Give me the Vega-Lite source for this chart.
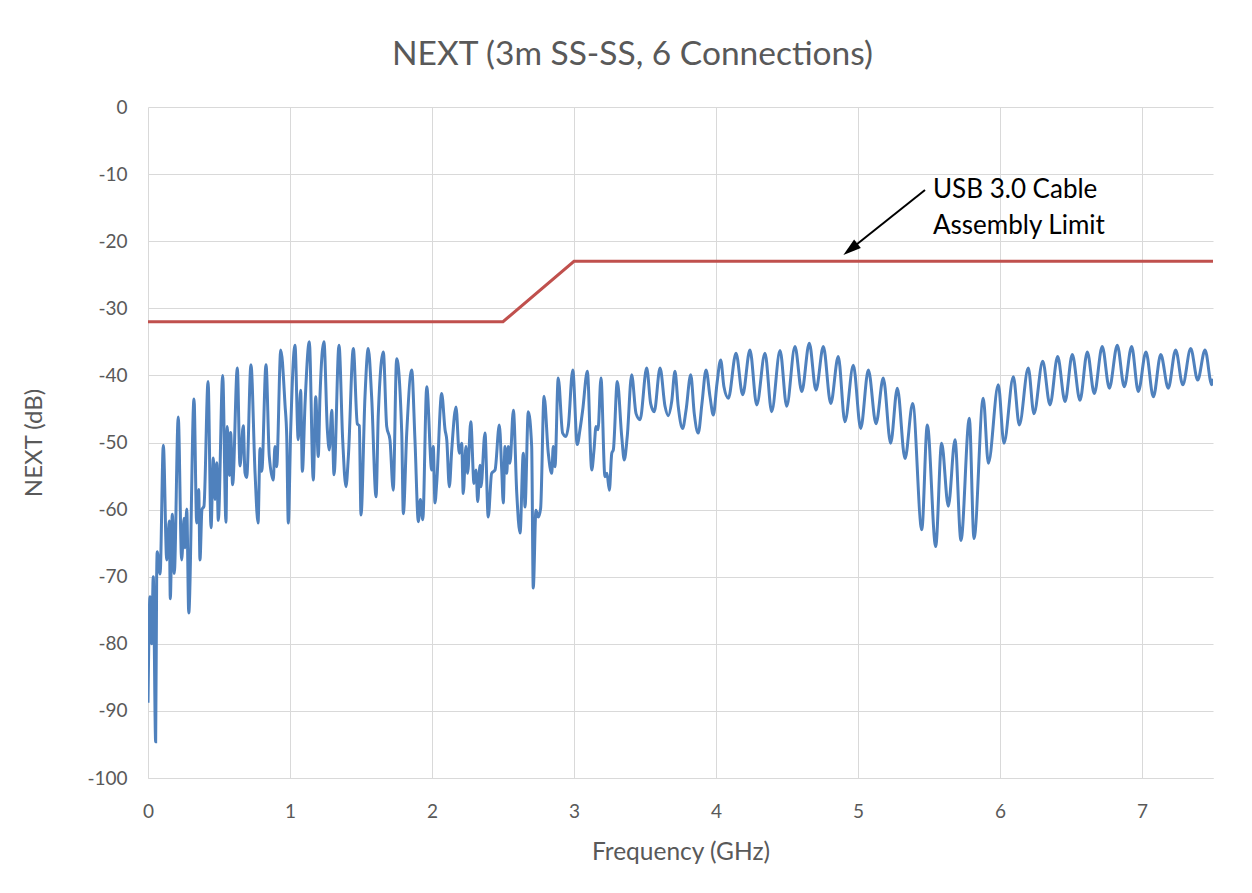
{
  "$schema": "https://vega.github.io/schema/vega-lite/v6.json",
  "width": 1065,
  "height": 671,
  "autosize": {"type": "none"},
  "padding": {"left": 148, "top": 107, "right": 39, "bottom": 115},
  "background": "white",
  "config": {"view": {"stroke": null}, "font": "Lato"},
  "title": {"text": "NEXT (3m SS-SS, 6 Connections)", "fontSize": 33.5, "font": "Lato", "fontWeight": "normal", "color": "#595959", "anchor": "middle", "dx": -48, "offset": 26},
  "datasets": {
    "next": [
      {"f":0.0,"v":-88.8},{"f":0.014,"v":-73},{"f":0.026,"v":-80},{"f":0.037,"v":-70},{"f":0.054,"v":-94.6},{"f":0.061,"v":-70},{"f":0.065,"v":-66.3},{"f":0.085,"v":-69.6},{"f":0.108,"v":-50.4},{"f":0.132,"v":-67.5},{"f":0.150,"v":-61.7},{"f":0.157,"v":-73.3},{"f":0.171,"v":-60.7},{"f":0.185,"v":-69.5},{"f":0.213,"v":-46.2},{"f":0.237,"v":-67.5},{"f":0.254,"v":-61.3},{"f":0.261,"v":-65.7},{"f":0.273,"v":-59.9},{"f":0.287,"v":-75.4},{"f":0.324,"v":-43.5},{"f":0.343,"v":-62},{"f":0.357,"v":-57},{"f":0.366,"v":-67.5},{"f":0.380,"v":-60},{"f":0.394,"v":-59.5},{"f":0.423,"v":-40.9},{"f":0.444,"v":-62.7},{"f":0.460,"v":-52.3},{"f":0.472,"v":-58.5},{"f":0.484,"v":-53},{"f":0.495,"v":-61.6},{"f":0.526,"v":-40},{"f":0.549,"v":-61.9},{"f":0.558,"v":-47.6},{"f":0.573,"v":-54.9},{"f":0.582,"v":-48.5},{"f":0.596,"v":-56.3},{"f":0.629,"v":-38.9},{"f":0.648,"v":-53.5},{"f":0.671,"v":-47.5},{"f":0.683,"v":-54.5},{"f":0.695,"v":-55.2},{"f":0.725,"v":-38.4},{"f":0.754,"v":-54.6},{"f":0.775,"v":-62},{"f":0.789,"v":-50.9},{"f":0.801,"v":-54.3},{"f":0.831,"v":-38.4},{"f":0.854,"v":-52},{"f":0.882,"v":-55.6},{"f":0.894,"v":-50.6},{"f":0.906,"v":-53.6},{"f":0.935,"v":-36.2},{"f":0.965,"v":-44.4},{"f":0.977,"v":-49.1},{"f":0.988,"v":-62},{"f":1.005,"v":-48.1},{"f":1.035,"v":-35.5},{"f":1.058,"v":-49.6},{"f":1.075,"v":-42.2},{"f":1.087,"v":-54.3},{"f":1.106,"v":-44.2},{"f":1.136,"v":-35},{"f":1.164,"v":-55.6},{"f":1.181,"v":-43.2},{"f":1.199,"v":-52.1},{"f":1.211,"v":-43.2},{"f":1.239,"v":-35},{"f":1.263,"v":-48.1},{"f":1.277,"v":-51.1},{"f":1.294,"v":-45.2},{"f":1.310,"v":-54.8},{"f":1.345,"v":-35.5},{"f":1.371,"v":-49.6},{"f":1.394,"v":-56.6},{"f":1.411,"v":-52.1},{"f":1.446,"v":-36},{"f":1.474,"v":-47.2},{"f":1.488,"v":-47.5},{"f":1.500,"v":-60.8},{"f":1.528,"v":-43.2},{"f":1.551,"v":-36},{"f":1.575,"v":-43.2},{"f":1.606,"v":-58.1},{"f":1.622,"v":-45.7},{"f":1.657,"v":-36.5},{"f":1.681,"v":-47.6},{"f":1.704,"v":-49.6},{"f":1.727,"v":-57.1},{"f":1.751,"v":-37.5},{"f":1.787,"v":-48.6},{"f":1.798,"v":-60.6},{"f":1.822,"v":-48.6},{"f":1.857,"v":-39.2},{"f":1.880,"v":-49.6},{"f":1.904,"v":-61.8},{"f":1.918,"v":-58.5},{"f":1.935,"v":-61.5},{"f":1.963,"v":-41.7},{"f":1.998,"v":-54.1},{"f":2.009,"v":-50.6},{"f":2.021,"v":-59},{"f":2.033,"v":-56.1},{"f":2.068,"v":-42.7},{"f":2.092,"v":-48.1},{"f":2.104,"v":-49.6},{"f":2.122,"v":-56.6},{"f":2.139,"v":-51.1},{"f":2.169,"v":-44.7},{"f":2.192,"v":-51.6},{"f":2.209,"v":-50.1},{"f":2.220,"v":-57.6},{"f":2.239,"v":-50.6},{"f":2.251,"v":-54.6},{"f":2.273,"v":-46.9},{"f":2.296,"v":-56.1},{"f":2.310,"v":-54.1},{"f":2.322,"v":-58.8},{"f":2.338,"v":-53.4},{"f":2.345,"v":-56.6},{"f":2.373,"v":-48.6},{"f":2.396,"v":-61.1},{"f":2.420,"v":-54.6},{"f":2.444,"v":-54.1},{"f":2.474,"v":-47.4},{"f":2.491,"v":-54.1},{"f":2.502,"v":-59},{"f":2.514,"v":-50.6},{"f":2.526,"v":-54.6},{"f":2.537,"v":-50.6},{"f":2.549,"v":-53.1},{"f":2.573,"v":-45.2},{"f":2.597,"v":-57.6},{"f":2.620,"v":-63.5},{"f":2.643,"v":-51.6},{"f":2.655,"v":-59.6},{"f":2.678,"v":-45.4},{"f":2.702,"v":-50.6},{"f":2.713,"v":-71.7},{"f":2.732,"v":-60.1},{"f":2.749,"v":-61.1},{"f":2.765,"v":-59.8},{"f":2.789,"v":-43.1},{"f":2.819,"v":-51.6},{"f":2.843,"v":-54.6},{"f":2.854,"v":-50.6},{"f":2.866,"v":-53.6},{"f":2.889,"v":-40.4},{"f":2.920,"v":-48.6},{"f":2.944,"v":-49.1},{"f":2.960,"v":-47.6},{"f":2.991,"v":-39.2},{"f":3.023,"v":-50.3},{"f":3.042,"v":-48.1},{"f":3.061,"v":-45.2},{"f":3.094,"v":-39.4},{"f":3.125,"v":-54.1},{"f":3.141,"v":-51.1},{"f":3.155,"v":-47.6},{"f":3.169,"v":-48.1},{"f":3.190,"v":-40.4},{"f":3.218,"v":-55.1},{"f":3.232,"v":-54.6},{"f":3.249,"v":-57.1},{"f":3.266,"v":-51.6},{"f":3.277,"v":-51.1},{"f":3.305,"v":-40.9},{"f":3.336,"v":-49.1},{"f":3.354,"v":-52.6},{"f":3.375,"v":-49.1},{"f":3.406,"v":-39.9},{"f":3.437,"v":-45.7},{"f":3.465,"v":-46.6},{"f":3.512,"v":-38.9},{"f":3.540,"v":-44.2},{"f":3.565,"v":-45.4},{"f":3.606,"v":-38.9},{"f":3.641,"v":-44.6},{"f":3.664,"v":-46},{"f":3.688,"v":-43.9},{"f":3.711,"v":-39.4},{"f":3.734,"v":-44.6},{"f":3.765,"v":-47.9},{"f":3.789,"v":-45.2},{"f":3.822,"v":-39.9},{"f":3.847,"v":-45.7},{"f":3.875,"v":-48.6},{"f":3.901,"v":-44.2},{"f":3.930,"v":-39.2},{"f":3.958,"v":-43.2},{"f":3.981,"v":-45.9},{"f":4.007,"v":-41.2},{"f":4.033,"v":-37.7},{"f":4.056,"v":-41.7},{"f":4.087,"v":-43.4},{"f":4.141,"v":-36.7},{"f":4.188,"v":-42.9},{"f":4.239,"v":-36.2},{"f":4.287,"v":-44.4},{"f":4.345,"v":-36.7},{"f":4.392,"v":-45.4},{"f":4.451,"v":-36.3},{"f":4.498,"v":-44.6},{"f":4.556,"v":-35.7},{"f":4.604,"v":-42.4},{"f":4.657,"v":-35.2},{"f":4.704,"v":-42.2},{"f":4.756,"v":-35.7},{"f":4.808,"v":-44.2},{"f":4.861,"v":-37.2},{"f":4.908,"v":-46.9},{"f":4.967,"v":-38.5},{"f":5.019,"v":-47.9},{"f":5.073,"v":-39.2},{"f":5.127,"v":-47.2},{"f":5.178,"v":-40.4},{"f":5.230,"v":-50.1},{"f":5.277,"v":-41.9},{"f":5.331,"v":-52.4},{"f":5.385,"v":-44.2},{"f":5.449,"v":-63},{"f":5.488,"v":-47.4},{"f":5.547,"v":-65.5},{"f":5.589,"v":-50.1},{"f":5.636,"v":-59.5},{"f":5.683,"v":-49.6},{"f":5.725,"v":-64.6},{"f":5.784,"v":-46.4},{"f":5.817,"v":-64.3},{"f":5.882,"v":-43.4},{"f":5.918,"v":-53.1},{"f":5.988,"v":-41.4},{"f":6.028,"v":-50.1},{"f":6.094,"v":-40.2},{"f":6.136,"v":-47.4},{"f":6.199,"v":-38.9},{"f":6.239,"v":-45.7},{"f":6.301,"v":-37.9},{"f":6.352,"v":-44.4},{"f":6.406,"v":-37.2},{"f":6.458,"v":-43.9},{"f":6.509,"v":-36.9},{"f":6.563,"v":-43.7},{"f":6.615,"v":-36.5},{"f":6.664,"v":-42.7},{"f":6.720,"v":-35.7},{"f":6.770,"v":-41.9},{"f":6.826,"v":-35.5},{"f":6.875,"v":-41.7},{"f":6.927,"v":-35.7},{"f":6.974,"v":-42.4},{"f":7.028,"v":-36.5},{"f":7.080,"v":-43.2},{"f":7.132,"v":-36.9},{"f":7.185,"v":-41.9},{"f":7.237,"v":-36.2},{"f":7.287,"v":-41.4},{"f":7.343,"v":-36},{"f":7.392,"v":-40.7},{"f":7.444,"v":-36.2},{"f":7.491,"v":-41.4},{"f":7.5,"v":-40.5}
    ],
    "limit": [{"f":0,"v":-32},{"f":2.5,"v":-32},{"f":3,"v":-23},{"f":7.5,"v":-23}],
    "arrow": [{"f":5.472,"v":-12.37,"f2":4.963,"v2":-20.94}],
    "head": [{"f":4.897,"v":-22.06}],
    "notes": [{"f":5.528,"v":-13.6,"label":"USB 3.0 Cable"},{"f":5.528,"v":-19.0,"label":"Assembly Limit"}]
  },
  "encoding": {
    "x": {"field": "f", "type": "quantitative",
      "scale": {"domain": [0, 7.5], "nice": false, "zero": false},
      "axis": {"title": "Frequency (GHz)", "values": [0,1,2,3,4,5,6,7], "grid": true, "gridColor": "#D9D9D9", "gridWidth": 1, "domainColor": "#D9D9D9", "domainWidth": 1, "ticks": false, "tickSize": 0, "labelPadding": 24, "labelFontSize": 19, "labelColor": "#595959", "labelFont": "Lato", "labelFlush": false, "titleFontSize": 24.5, "titleColor": "#595959", "titleFont": "Lato", "titleFontWeight": "normal", "titlePadding": 19}},
    "y": {"field": "v", "type": "quantitative",
      "scale": {"domain": [-100, 0], "nice": false, "zero": false},
      "axis": {"title": "NEXT (dB)", "values": [-100,-90,-80,-70,-60,-50,-40,-30,-20,-10,0], "labelExpr": "toString(datum.value)", "grid": true, "gridColor": "#D9D9D9", "gridWidth": 1, "domain": false, "ticks": false, "tickSize": 0, "labelPadding": 21, "labelFontSize": 19, "labelColor": "#595959", "labelFont": "Lato", "labelFlush": false, "titleFontSize": 24, "titleColor": "#595959", "titleFont": "Lato", "titleFontWeight": "normal", "titlePadding": 40}}
  },
  "layer": [
    {"data": {"name": "next"}, "mark": {"type": "line", "color": "#4F81BD", "strokeWidth": 3, "interpolate": "monotone", "clip": true}},
    {"data": {"name": "limit"}, "mark": {"type": "line", "color": "#C0504D", "strokeWidth": 3}},
    {"data": {"name": "arrow"}, "mark": {"type": "rule", "color": "black", "strokeWidth": 2},
      "encoding": {"x2": {"field": "f2"}, "y2": {"field": "v2"}}},
    {"data": {"name": "head"}, "mark": {"type": "point", "shape": "M0,0 L0.6,2 L-0.6,2 Z", "filled": true, "color": "black", "opacity": 1, "size": 324, "angle": 231.6, "strokeWidth": 0}},
    {"data": {"name": "notes"}, "mark": {"type": "text", "align": "left", "baseline": "alphabetic", "fontSize": 26, "font": "Lato", "color": "black"},
      "encoding": {"text": {"field": "label"}}}
  ]
}
